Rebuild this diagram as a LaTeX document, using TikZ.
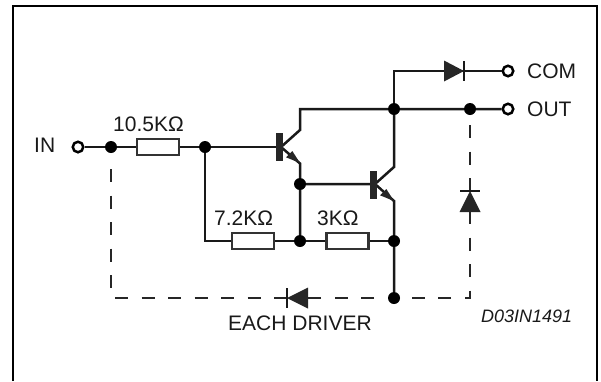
\documentclass[tikz,border=0pt]{standalone}
\usepackage{fontspec}
\setmainfont{Liberation Sans}
\tikzset{
 wire/.style={draw=black!90,line width=2.5pt,line join=miter},
 dash wire/.style={draw=black!85,line width=2.5pt,dash pattern=on 13pt off 13.5pt},
 junction/.style={circle,fill=black,inner sep=0pt,minimum size=12pt},
 terminal/.style={circle,draw=black,line width=2.5pt,fill=white,inner sep=0pt,minimum size=10.5pt},
 resistor/.style={rectangle,draw=black!80,line width=2.5pt,fill=white,inner sep=0pt,minimum width=42pt,minimum height=16pt},
 lbl/.style={inline,font=\fontsize{21}{21}\selectfont},
 inline/.style={inner sep=0pt,anchor=base west,text=black!90},
 tbar/.style={fill=black!85},
 dfill/.style={fill=black!85},
}
\begin{document}
\begin{tikzpicture}[x=1pt,y=-1pt]
\useasboundingbox (0,0) rectangle (601,381);
\draw[black,line width=2pt] (13,381) -- (13,6) -- (597,6) -- (597,381);
% nodes
\node[terminal] (in) at (78,147) {};
\node[junction] (j1) at (111,147) {};
\node[resistor] (r1) at (158,147) {};
\node[junction] (j2) at (205,147) {};
\coordinate (b1) at (281,147);
\coordinate (c1) at (300,130);
\coordinate (e1) at (300,163.5);
\node[junction] (j3) at (300,184) {};
\coordinate (b2) at (375,184);
\coordinate (c2) at (394,167);
\coordinate (e2) at (394,201);
\node[junction] (j4) at (394,109) {};
\node[junction] (j5) at (470,109) {};
\node[terminal] (out) at (508,109) {};
\node[terminal] (com) at (508,71) {};
\coordinate (ct) at (394,71);
\coordinate (c1t) at (300,109);
\coordinate (ll) at (205,241);
\node[resistor] (r2) at (253,241) {};
\node[junction] (j6) at (300,241) {};
\node[resistor] (r3) at (347.5,241) {};
\node[junction] (j7) at (394,241) {};
\node[junction] (j8) at (394,298) {};
\coordinate (dl) at (111,298);
\coordinate (dr) at (470,298);
% dash segment ends
\coordinate (a1) at (111,169);
\coordinate (a2) at (111,288);
\coordinate (a3) at (115,298);
\coordinate (a4) at (287,298);
\coordinate (a5) at (308,298);
\coordinate (a6) at (374,298);
\coordinate (a7) at (470,125);
\coordinate (a8) at (470,191);
\coordinate (a9) at (470,211);
\coordinate (a10) at (410,298);
% wires
\draw[wire] (in) -- (j1) -- (r1) -- (j2) -- (b1);
\draw[wire] (j2) -- (ll) -- (r2) -- (j6) -- (r3) -- (j7);
\draw[wire] (b1) -- (c1) -- (c1t) -- (j4) -- (j5) -- (out);
\draw[wire] (j4) -- (ct) -- (com);
\draw[wire] (j4) -- (c2) -- (b2);
\draw[wire] (b1) -- (e1) -- (j3) -- (j6);
\draw[wire] (j3) -- (b2) -- (e2) -- (j7) -- (j8);
% transistors
\fill[tbar] (276,133) rectangle (283,161);
\fill[tbar] (370,171) rectangle (377,199);
\fill[dfill] (300,163) -- (286,157.3) -- (292.3,151) -- cycle;
\fill[dfill] (394,201) -- (380,195.3) -- (386.3,189) -- cycle;
% dashed
\draw[dash wire] (a1) -- (a2);
\draw[dash wire] (a3) -- (a4);
\draw[dash wire] (a6) -- (a5);
\draw[dash wire] (a7) -- (a8);
\draw[dash wire] (a9) -- (dr) -- (a10);
% diodes
\fill[dfill] (444,60.5) -- (464,71) -- (444,81.5) -- cycle;
\draw[wire,line width=1.8pt] (464,61) -- (464,81);
\fill[dfill] (459.5,212) -- (470,191) -- (480.5,212) -- cycle;
\draw[wire,line width=1.8pt] (460,191) -- (480,191);
\fill[dfill] (308,287.5) -- (287,298) -- (308,308.5) -- cycle;
\draw[wire,line width=1.8pt] (287,288) -- (287,308);
% labels
\node[lbl] (t1) at (34,152) {IN};
\node[lbl] (t2) at (113,131) {10.5KΩ};
\node[lbl] (t3) at (214,225) {7.2KΩ};
\node[lbl] (t4) at (317,225) {3KΩ};
\node[lbl] (t5) at (527,78) {COM};
\node[lbl] (t6) at (527,116) {OUT};
\node[lbl] (t7) at (228,330) {EACH DRIVER};
\node[inline,font=\fontsize{18}{18}\selectfont\itshape] (t8) at (481,322) {D03IN1491};
\end{tikzpicture}
\end{document}
